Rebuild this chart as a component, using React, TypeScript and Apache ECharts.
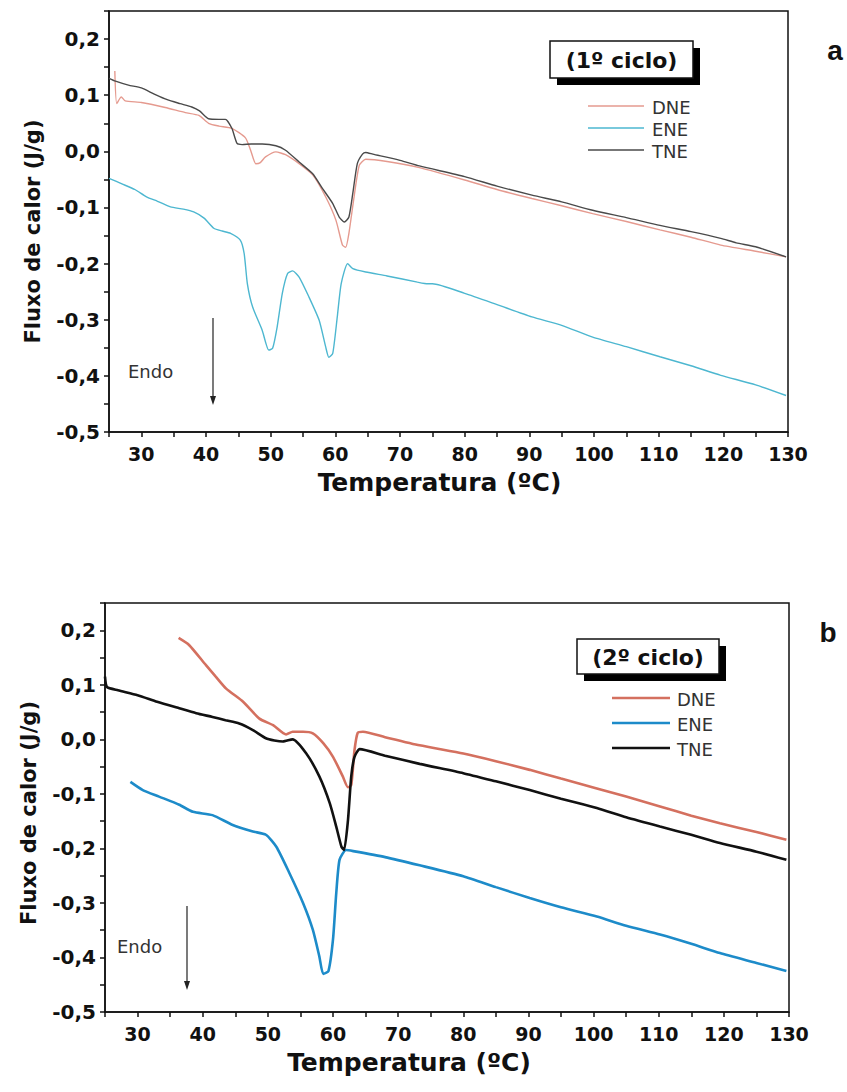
import React, { useEffect, useRef } from "react";
import * as echarts from "echarts";

// ---- Data (Temperatura ºC, Fluxo de calor J/g) ----
// (a) 1º ciclo
const dneA: [number, number][] = [
  [25.9, 0.143], [26.2, 0.085], [26.9, 0.097], [27.5, 0.09], [30, 0.087], [33.7, 0.078], [36.8, 0.069],
  [38.9, 0.064], [40.4, 0.05], [42, 0.045], [44, 0.041], [46.1, 0.024], [46.9, 0.002], [47.7, -0.022],
  [48.4, -0.02], [49.2, -0.01], [50.8, -0.001], [52.3, -0.006], [54.4, -0.022], [56.5, -0.042],
  [58.5, -0.081], [60.1, -0.123], [61.1, -0.167], [61.6, -0.171], [62.1, -0.146], [62.9, -0.081],
  [63.7, -0.025], [64.7, -0.014], [68, -0.018], [73, -0.029], [80, -0.051], [85, -0.068], [90.4, -0.084],
  [95, -0.097], [99.8, -0.111], [105, -0.125], [110.2, -0.14], [115, -0.153], [119.6, -0.167],
  [125, -0.178], [129.7, -0.188],
];
const eneA: [number, number][] = [
  [25, -0.048], [27, -0.058], [29, -0.068], [30.8, -0.081], [32.5, -0.089], [34.5, -0.099], [36.5, -0.103],
  [38.1, -0.108], [39.7, -0.119], [41.2, -0.137], [42.5, -0.142], [43.8, -0.146], [45.3, -0.158],
  [45.9, -0.182], [46.4, -0.236], [47.2, -0.277], [48.7, -0.319], [49.7, -0.354], [50.3, -0.351],
  [51, -0.313], [51.8, -0.253], [52.6, -0.218], [53.4, -0.213], [54.4, -0.224], [55.9, -0.259],
  [57.5, -0.301], [58.5, -0.348], [59, -0.367], [59.6, -0.36], [60.3, -0.295], [60.9, -0.236],
  [61.9, -0.2], [62.7, -0.209], [64.7, -0.215], [68, -0.222], [72.7, -0.233], [74.3, -0.236],
  [75, -0.236], [80, -0.253], [85, -0.273], [90.4, -0.295], [95, -0.31], [99.8, -0.331],
  [105, -0.348], [110.2, -0.366], [115, -0.382], [119.6, -0.399], [125, -0.416], [129.7, -0.435],
];
const tneA: [number, number][] = [
  [25, 0.13], [26, 0.125], [28, 0.118], [30, 0.113], [32, 0.102], [34, 0.092], [36, 0.085], [37.8, 0.079],
  [39, 0.072], [40.4, 0.058], [42, 0.057], [43, 0.057], [44, 0.041], [44.8, 0.014], [45.6, 0.012],
  [47, 0.013], [48.7, 0.013], [50.8, 0.01], [52.3, 0.002], [54.4, -0.019], [56.5, -0.04], [58, -0.066],
  [59.6, -0.093], [60.6, -0.117], [61.4, -0.126], [62.1, -0.117], [62.7, -0.075], [63.4, -0.022],
  [64.2, -0.005], [64.7, -0.002], [65.8, -0.005], [70, -0.016], [73, -0.026], [80, -0.045], [85, -0.062],
  [90.4, -0.078], [95, -0.09], [99.8, -0.105], [105, -0.118], [110.2, -0.132], [115, -0.143],
  [119.6, -0.155], [122, -0.163], [125, -0.17], [129.7, -0.188],
];
// (b) 2º ciclo
const dneB: [number, number][] = [
  [36.3, 0.186], [37.9, 0.173], [40.5, 0.136], [42, 0.115], [43.6, 0.093], [46.2, 0.069], [48.7, 0.038],
  [50.8, 0.026], [52.8, 0.009], [53.8, 0.014], [55.4, 0.014], [56.9, 0.011], [58.5, -0.007], [60, -0.032],
  [61.5, -0.068], [62.3, -0.088], [62.8, -0.084], [63.3, -0.02], [63.8, 0.012], [64.6, 0.014], [68, 0.004],
  [73.3, -0.011], [80, -0.026], [85, -0.04], [90.2, -0.056], [95, -0.072], [100.5, -0.09], [105, -0.105],
  [110.2, -0.123], [115, -0.14], [119.4, -0.154], [125, -0.17], [129.6, -0.184],
];
const eneB: [number, number][] = [
  [28.9, -0.078], [30.8, -0.093], [33.3, -0.105], [36.4, -0.12], [38.5, -0.133], [41.5, -0.139],
  [44.6, -0.157], [47.7, -0.169], [49.7, -0.175], [51.3, -0.197], [53.3, -0.245], [55.4, -0.3],
  [56.9, -0.349], [57.9, -0.398], [58.5, -0.43], [59.3, -0.425], [60, -0.367], [60.5, -0.282],
  [61, -0.221], [62, -0.203], [63.1, -0.205], [68, -0.216], [73.3, -0.231], [80, -0.251], [85, -0.271],
  [90.2, -0.291], [95, -0.308], [100.5, -0.325], [105, -0.342], [110.2, -0.358], [115, -0.375],
  [119.4, -0.392], [125, -0.41], [129.6, -0.425],
];
const tneB: [number, number][] = [
  [25, 0.115], [25.3, 0.096], [27, 0.09], [30, 0.081], [33, 0.069], [36.4, 0.057], [39, 0.048],
  [41.5, 0.041], [43.5, 0.035], [45.6, 0.029], [47.7, 0.017], [49.7, 0.002], [51, -0.002], [52.3, -0.004],
  [53.8, 0.0], [55.9, -0.026], [57.9, -0.068], [59.5, -0.117], [60.5, -0.16], [61.3, -0.197],
  [61.7, -0.203], [62.3, -0.148], [62.8, -0.068], [63.3, -0.032], [64.1, -0.018], [68, -0.03],
  [73.3, -0.045], [80, -0.062], [85, -0.077], [90.2, -0.093], [95, -0.109], [100.5, -0.126],
  [105, -0.143], [110.2, -0.16], [115, -0.175], [119.4, -0.19], [125, -0.206], [129.6, -0.221],
];

const seriesNames = ["DNE", "ENE", "TNE"];
const colorsA = ["#e59a8f", "#4db7d0", "#4a4a4a"];
const colorsB = ["#d4705f", "#1d8bc9", "#111111"];
const cycleTitles = ["(1º ciclo)", "(2º ciclo)"];
const panelLetters = ["a", "b"];

const X_MIN = 25, X_MAX = 130, X_STEP = 5;
const Y_MIN = -0.5, Y_MAX = 0.25, Y_STEP = 0.05;

const TICK_FONT = "DejaVu Sans";

function xAxisCfg(gridIndex: number, padRight: number) {
  return {
    type: "value",
    gridIndex,
    min: X_MIN,
    max: X_MAX,
    interval: X_STEP,
    name: "Temperatura (ºC)",
    nameLocation: "middle",
    nameGap: 38,
    nameTextStyle: {
      fontFamily: TICK_FONT,
      fontWeight: "bold",
      fontSize: 25,
      color: "#111",
      padding: [0, padRight, 0, 0],
    },
    axisLine: { show: true, onZero: false, lineStyle: { color: "#111", width: 1.5 } },
    axisTick: { show: true, inside: false, length: 5, lineStyle: { color: "#111", width: 1.5 } },
    splitLine: { show: false },
    axisLabel: {
      margin: 12,
      fontFamily: TICK_FONT,
      fontWeight: "bold",
      fontSize: 19,
      color: "#111",
      formatter: (v: number) => {
        const r = Math.round(v);
        return Math.abs(v - r) < 1e-6 && r % 10 === 0 ? String(r) : "";
      },
    },
  };
}

function yAxisCfg(gridIndex: number, padRight: number) {
  return {
    type: "value",
    gridIndex,
    min: Y_MIN,
    max: Y_MAX,
    interval: Y_STEP,
    name: "Fluxo de calor (J/g)",
    nameLocation: "middle",
    nameGap: 66,
    nameRotate: 90,
    nameTextStyle: {
      fontFamily: TICK_FONT,
      fontWeight: "bold",
      fontSize: 21,
      color: "#111",
      padding: [0, padRight, 0, 0],
    },
    axisLine: { show: true, onZero: false, lineStyle: { color: "#111", width: 1.5 } },
    axisTick: { show: true, inside: false, length: 5, lineStyle: { color: "#111", width: 1.5 } },
    splitLine: { show: false },
    axisLabel: {
      margin: 9,
      fontFamily: TICK_FONT,
      fontWeight: "bold",
      fontSize: 20,
      color: "#111",
      formatter: (v: number) => {
        const k = Math.round(v * 20);
        if (Math.abs(k) % 2 !== 0) return "";
        const t = Math.round(v * 10) / 10;
        return (t === 0 ? 0 : t).toFixed(1).replace(".", ",");
      },
    },
  };
}

function legendGraphics(
  box: { x: number; y: number; w: number; h: number },
  title: string,
  lineX0: number,
  lineX1: number,
  textX: number,
  rowY: number[],
  colors: string[],
  width: number
) {
  const els: any[] = [
    { type: "rect", shape: { x: box.x + 7, y: box.y + 7, width: box.w, height: box.h }, style: { fill: "#000" } },
    {
      type: "rect",
      shape: { x: box.x, y: box.y, width: box.w, height: box.h },
      style: { fill: "#fff", stroke: "#111", lineWidth: 1.5 },
    },
    {
      type: "text",
      x: box.x + box.w / 2,
      y: box.y + box.h / 2 + 1,
      style: {
        text: title,
        fontFamily: TICK_FONT,
        fontWeight: "bold",
        fontSize: 22,
        fill: "#111",
        textAlign: "center",
        textVerticalAlign: "middle",
      },
    },
  ];
  seriesNames.forEach((n, i) => {
    els.push({
      type: "line",
      shape: { x1: lineX0, y1: rowY[i], x2: lineX1, y2: rowY[i] },
      style: { stroke: colors[i], lineWidth: width },
    });
    els.push({
      type: "text",
      x: textX,
      y: rowY[i] + 1,
      style: {
        text: n,
        fontFamily: TICK_FONT,
        fontSize: 18,
        fill: "#333",
        textAlign: "left",
        textVerticalAlign: "middle",
      },
    });
  });
  return els;
}

function endoGraphics(tx: number, ty: number, ax: number, ay0: number, ay1: number) {
  return [
    {
      type: "text",
      x: tx,
      y: ty,
      style: {
        text: "Endo",
        fontFamily: TICK_FONT,
        fontSize: 18,
        fill: "#333",
        textAlign: "left",
        textVerticalAlign: "middle",
      },
    },
    { type: "line", shape: { x1: ax, y1: ay0, x2: ax, y2: ay1 - 6 }, style: { stroke: "#222", lineWidth: 1.2 } },
    {
      type: "polygon",
      shape: { points: [[ax - 3, ay1 - 9], [ax + 3, ay1 - 9], [ax, ay1]] },
      style: { fill: "#222" },
    },
  ];
}

export default function App() {
  const ref = useRef<HTMLDivElement>(null);
  useEffect(() => {
    document.body.style.margin = "0";
    if (!ref.current) return;
    const chart = echarts.init(ref.current, null, { renderer: "svg" });
    const dataA = [dneA, eneA, tneA];
    const dataB = [dneB, eneB, tneB];
    const series: any[] = [];
    seriesNames.forEach((n, i) => {
      series.push({
        type: "line",
        name: n,
        xAxisIndex: 0,
        yAxisIndex: 0,
        data: dataA[i],
        showSymbol: false,
        symbol: "none",
        smooth: 0.2,
        lineStyle: { color: colorsA[i], width: 1.4 },
        itemStyle: { color: colorsA[i] },
        z: 3,
      });
    });
    seriesNames.forEach((n, i) => {
      series.push({
        type: "line",
        name: n + " ",
        xAxisIndex: 1,
        yAxisIndex: 1,
        data: dataB[i],
        showSymbol: false,
        symbol: "none",
        smooth: 0.2,
        lineStyle: { color: colorsB[i], width: 2.6 },
        itemStyle: { color: colorsB[i] },
        z: 3,
      });
    });

    const graphics: any[] = [
      ...legendGraphics({ x: 550, y: 41, w: 143, h: 37 }, cycleTitles[0], 588, 644, 652, [106, 128, 150], colorsA, 1.4),
      ...legendGraphics({ x: 577, y: 639, w: 142, h: 35 }, cycleTitles[1], 612, 670, 677, [698, 723, 748], colorsB, 2.6),
      ...endoGraphics(128, 371, 213, 318, 405),
      ...endoGraphics(117, 946, 187, 906, 990),
      {
        type: "text",
        x: 835,
        y: 50,
        style: { text: panelLetters[0], fontFamily: "Liberation Sans", fontWeight: "bold", fontSize: 28, fill: "#111", textAlign: "center", textVerticalAlign: "middle" },
      },
      {
        type: "text",
        x: 828,
        y: 632,
        style: { text: panelLetters[1], fontFamily: "Liberation Sans", fontWeight: "bold", fontSize: 28, fill: "#111", textAlign: "center", textVerticalAlign: "middle" },
      },
    ];

    chart.setOption({
      animation: false,
      backgroundColor: "#fff",
      grid: [
        { left: 109, top: 11, width: 679, height: 421, show: true, borderColor: "#111", borderWidth: 1.5, backgroundColor: "transparent" },
        { left: 105, top: 603, width: 684, height: 409, show: true, borderColor: "#111", borderWidth: 1.5, backgroundColor: "transparent" },
      ],
      xAxis: [xAxisCfg(0, 18), xAxisCfg(1, 76)],
      yAxis: [yAxisCfg(0, 20), yAxisCfg(1, 11)],
      series,
      graphic: graphics,
    });
    return () => chart.dispose();
  }, []);
  return <div ref={ref} style={{ width: 847, height: 1092 }} />;
}
